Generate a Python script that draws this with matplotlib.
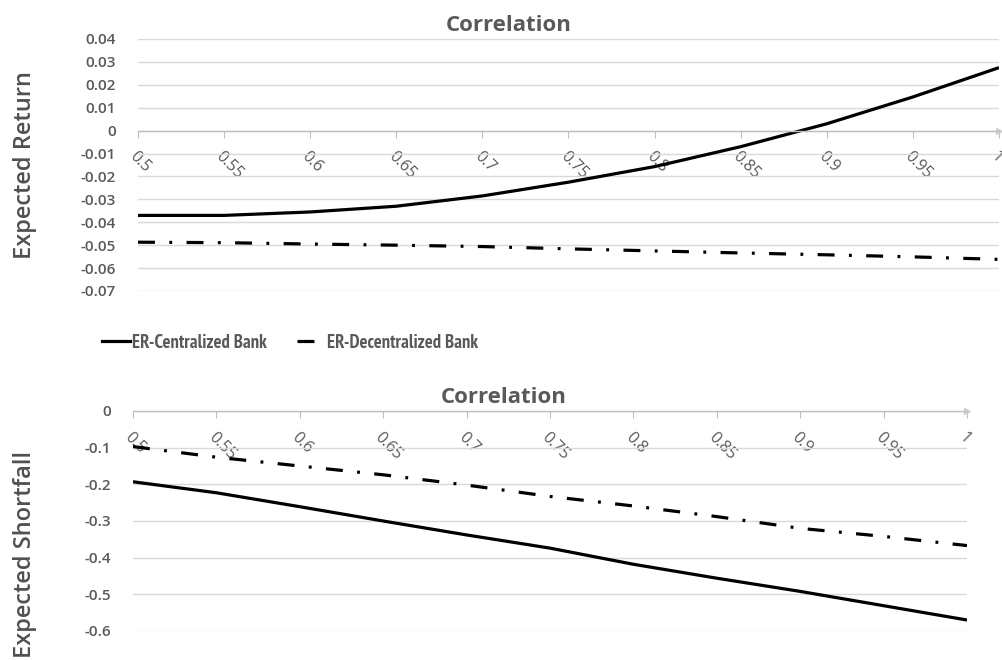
import matplotlib
matplotlib.use("Agg")
import matplotlib.pyplot as plt
from matplotlib.lines import Line2D
from matplotlib import font_manager

correlation = [0.5, 0.55, 0.6, 0.65, 0.7, 0.75, 0.8, 0.85, 0.9, 0.95, 1.0]
x_tick_labels = ["0.5", "0.55", "0.6", "0.65", "0.7", "0.75", "0.8", "0.85", "0.9", "0.95", "1"]

er_centralized = [-0.037, -0.037, -0.0355, -0.033, -0.0285, -0.0225, -0.0157, -0.007, 0.003, 0.0147, 0.0275]
er_decentralized = [-0.0487, -0.0489, -0.0495, -0.050, -0.0506, -0.0516, -0.0525, -0.0534, -0.0542, -0.0551, -0.0562]

es_centralized = [-0.193, -0.223, -0.261, -0.300, -0.338, -0.374, -0.418, -0.456, -0.492, -0.531, -0.570]
es_decentralized = [-0.097, -0.126, -0.150, -0.174, -0.202, -0.233, -0.259, -0.288, -0.320, -0.342, -0.367]

er_yticks = [0.04, 0.03, 0.02, 0.01, 0, -0.01, -0.02, -0.03, -0.04, -0.05, -0.06, -0.07]
er_ytick_labels = ["0.04", "0.03", "0.02", "0.01", "0", "-0.01", "-0.02", "-0.03", "-0.04", "-0.05", "-0.06", "-0.07"]
es_yticks = [0, -0.1, -0.2, -0.3, -0.4, -0.5, -0.6]
es_ytick_labels = ["0", "-0.1", "-0.2", "-0.3", "-0.4", "-0.5", "-0.6"]

labels = ["ER-Centralized Bank", "ER-Decentralized Bank"]

names = {f.name for f in font_manager.fontManager.ttflist}
NARROW = "Open Sans"
for cand in ["PT Sans Narrow", "Roboto Condensed", "Open Sans Condensed", "Archivo Narrow",
             "Fira Sans Condensed", "Liberation Sans Narrow", "Encode Sans Condensed",
             "Asap Condensed", "Barlow Semi Condensed"]:
    if cand in names:
        NARROW = cand
        break

GRAY = "#595959"
GRID = "#d9d9d9"
DASHDOT = (0, (5.3, 4.5, 0.9, 4.5))
LW = 2.3

fig = plt.figure(figsize=(10.03, 6.6), dpi=100)
ax1 = fig.add_axes([138/1003, 1-291/660, 861/1003, 252/660])
ax2 = fig.add_axes([133/1003, 1-631/660, 834/1003, 220/660])

def style(ax, yticks, ylabels, ylim, title, ylabel):
    ax.set_xlim(0.5, 1.0)
    ax.set_ylim(*ylim)
    for s in ["left", "right", "top"]:
        ax.spines[s].set_visible(False)
    ax.spines["bottom"].set_position(("data", 0))
    ax.spines["bottom"].set_color("#bfbfbf")
    ax.spines["bottom"].set_linewidth(1.0)
    ax.set_yticks(yticks)
    ax.set_yticklabels(ylabels, fontsize=11, color=GRAY, family="Open Sans", fontweight="semibold")
    ax.tick_params(axis="y", length=0, pad=16)
    ax.set_xticks(correlation)
    ax.set_xticklabels(x_tick_labels, fontsize=11.5, color=GRAY, family="Open Sans",
                       rotation=-45, ha="left", va="top", rotation_mode="anchor")
    ax.tick_params(axis="x", length=5, color="#bfbfbf", pad=8, direction="out")
    ax.grid(axis="y", color=GRID, linewidth=1.0)
    ax.set_axisbelow(True)
    ax.set_facecolor("none")
    ax.set_title(title, fontsize=16, fontweight="bold", color=GRAY, family="Open Sans", pad=6)
    ax.set_ylabel(ylabel, fontsize=17, color="#505050", family="Open Sans", fontweight="semibold")
    ax.plot([1.0], [0], marker=">", color="#d0d0d0", markersize=4, clip_on=False)

style(ax1, er_yticks, er_ytick_labels, (-0.07, 0.04), "Correlation", "Expected Return")
style(ax2, es_yticks, es_ytick_labels, (-0.6, 0.0), "Correlation", "Expected Shortfall")

ax1.plot(correlation, er_centralized, color="black", linewidth=LW, solid_capstyle="butt")
ax1.plot(correlation, er_decentralized, color="black", linewidth=LW, linestyle=DASHDOT, dash_capstyle="butt")
ax2.plot(correlation, es_centralized, color="black", linewidth=LW, solid_capstyle="butt")
ax2.plot(correlation, es_decentralized, color="black", linewidth=LW, linestyle=DASHDOT, dash_capstyle="butt")

ax1.title.set_position((0.43, 1.0))
ax2.title.set_position((0.445, 1.0))
ax1.yaxis.set_label_coords(-0.117, 0.5)
ax2.yaxis.set_label_coords(-0.115, 0.35)

# legend font size fitted so "ER-Centralized Bank" spans ~132 px (compromise with height)
renderer = fig.canvas.get_renderer()
probe = fig.text(0, 0, labels[0], family=NARROW, fontsize=13, fontweight="bold")
w = probe.get_window_extent(renderer).width
probe.remove()
LEG_FS = max(11.0, min(13.5, 13 * 134.0 / w))

handles = [Line2D([], [], color="black", linewidth=LW),
           Line2D([], [], color="black", linewidth=LW, linestyle=DASHDOT, dash_capstyle="butt")]
for h, lab, x0 in zip(handles, labels, [102, 297]):
    leg = fig.legend([h], [lab], loc="center left", bbox_to_anchor=(x0/1003, 1-343/660),
                     frameon=False, borderpad=0, borderaxespad=0,
                     handlelength=20.0/LEG_FS, handletextpad=0.12,
                     prop={"family": NARROW, "size": LEG_FS, "weight": "bold"})
    for t in leg.get_texts():
        t.set_color(GRAY)

fig.savefig("out.png", dpi=100)
